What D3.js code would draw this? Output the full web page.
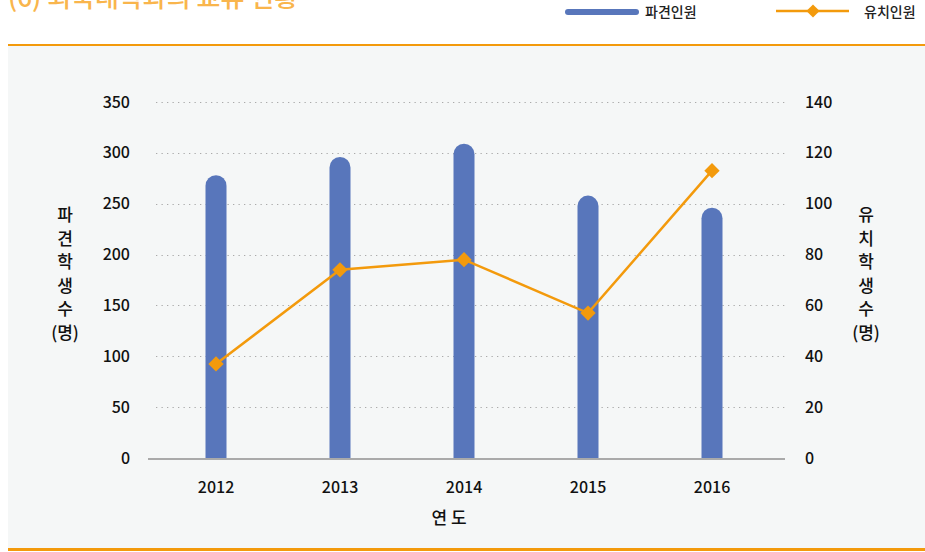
<!DOCTYPE html>
<html>
<head>
<meta charset="utf-8">
<script src="https://cdn.jsdelivr.net/npm/d3@7"></script>
<style>
  body { margin: 0; background: #fff; }
  svg text { font-family: "Noto Sans CJK KR", "Noto Sans", sans-serif; }
</style>
</head>
<body>
<div id="chartContainer"></div>
<script>
var years = ["2012", "2013", "2014", "2015", "2016"];
var sent = [278, 296, 309, 258, 246];      // 파견인원
var hosted = [37, 74, 78, 57, 113];        // 유치인원
var leftTicks = [0, 50, 100, 150, 200, 250, 300, 350];
var rightTicks = [0, 20, 40, 60, 80, 100, 120, 140];
var leftTitle = ["파", "견", "학", "생", "수", "(명)"];
var rightTitle = ["유", "치", "학", "생", "수", "(명)"];

var W = 925, H = 552;
var blue = "#5876bb", orange = "#f39a0c";

var svg = d3.select("#chartContainer").append("svg")
  .attr("width", W)
  .attr("height", H);

// panel background and orange rules
svg.append("rect").attr("x", 8).attr("y", 46).attr("width", W - 8).attr("height", 503).attr("fill", "#f5f7f7");
svg.append("rect").attr("x", 8).attr("y", 44).attr("width", W - 8).attr("height", 2).attr("fill", orange);
svg.append("rect").attr("x", 8).attr("y", 548).attr("width", W - 8).attr("height", 3).attr("fill", orange);

// title (cut off at top like the source)
svg.append("text")
  .attr("x", 8).attr("y", 7)
  .attr("font-size", 26).attr("font-weight", 500)
  .attr("fill", "#f9b54c")
  .text("(6) 외국대학과의 교류 현황");

// legend
svg.append("line").attr("x1", 568).attr("x2", 636).attr("y1", 12).attr("y2", 12)
  .attr("stroke", blue).attr("stroke-width", 6).attr("stroke-linecap", "round");
svg.append("text").attr("x", 645).attr("y", 17).attr("font-size", 14).attr("font-weight", 500).attr("fill", "#222").text("파견인원");
svg.append("line").attr("x1", 776).attr("x2", 849).attr("y1", 11).attr("y2", 11)
  .attr("stroke", orange).attr("stroke-width", 2.5);
svg.append("path").attr("d", d3.symbol(d3.symbolDiamond2, 110)()).attr("transform", "translate(813,11)").attr("fill", orange);
svg.append("text").attr("x", 864).attr("y", 17).attr("font-size", 14).attr("font-weight", 500).attr("fill", "#222").text("유치인원");

var x = d3.scaleBand().domain(years).range([154, 774]);
var yL = d3.scaleLinear().domain([0, 350]).range([458, 102]);
var yR = d3.scaleLinear().domain([0, 140]).range([458, 102]);

// dotted gridlines
svg.append("g").selectAll("line").data(leftTicks.slice(1)).join("line")
  .attr("x1", 156).attr("x2", 786)
  .attr("y1", function(d){ return Math.round(yL(d)) + 0.5; })
  .attr("y2", function(d){ return Math.round(yL(d)) + 0.5; })
  .attr("stroke", "#aaa").attr("stroke-width", 1.2).attr("stroke-dasharray", "1.3,4.2");

// left axis labels
var leftAxis = d3.axisLeft(yL).tickValues(leftTicks).tickSize(0).tickPadding(0);
var lg = svg.append("g").attr("transform", "translate(130,0)").call(leftAxis);
lg.select(".domain").remove();
lg.selectAll("text").attr("font-size", 16).attr("font-weight", 500).attr("fill", "#111")
  .attr("font-family", "\"Noto Sans CJK KR\", sans-serif");

// right axis labels
var rightAxis = d3.axisRight(yR).tickValues(rightTicks).tickSize(0).tickPadding(0);
var rg = svg.append("g").attr("transform", "translate(805,0)").call(rightAxis);
rg.select(".domain").remove();
rg.selectAll("text").attr("font-size", 16).attr("font-weight", 500).attr("fill", "#111")
  .attr("font-family", "\"Noto Sans CJK KR\", sans-serif");

// bars with rounded tops
var bw = 21;
svg.append("g").selectAll("path").data(sent).join("path")
  .attr("fill", blue)
  .attr("d", function(d, i){
    var cx = x(years[i]) + x.bandwidth() / 2, r = bw / 2;
    var top = yL(d), bot = yL(0);
    return "M" + (cx - r) + "," + bot + "L" + (cx - r) + "," + (top + r) +
      "A" + r + "," + r + " 0 0 1 " + (cx + r) + "," + (top + r) +
      "L" + (cx + r) + "," + bot + "Z";
  });

// x axis line
svg.append("line").attr("x1", 148).attr("x2", 785).attr("y1", 459).attr("y2", 459)
  .attr("stroke", "#aaa").attr("stroke-width", 2);

// x labels
var xAxis = d3.axisBottom(x).tickSize(0).tickPadding(0);
var xg = svg.append("g").attr("transform", "translate(0,482)").call(xAxis);
xg.select(".domain").remove();
xg.selectAll("text").attr("font-size", 16).attr("font-weight", 500).attr("fill", "#111")
  .attr("font-family", "\"Noto Sans CJK KR\", sans-serif");

svg.append("text").attr("x", 449).attr("y", 524).attr("text-anchor", "middle")
  .attr("font-size", 17).attr("font-weight", 500).attr("fill", "#111").text("연 도");

// line series
var line = d3.line()
  .x(function(d, i){ return x(years[i]) + x.bandwidth() / 2; })
  .y(function(d){ return yR(d); });
svg.append("path").datum(hosted).attr("d", line)
  .attr("fill", "none").attr("stroke", orange).attr("stroke-width", 2.5);
svg.append("g").selectAll("path").data(hosted).join("path")
  .attr("d", d3.symbol(d3.symbolDiamond2, 150)())
  .attr("transform", function(d, i){ return "translate(" + (x(years[i]) + x.bandwidth() / 2) + "," + yR(d) + ")"; })
  .attr("fill", orange);

// vertical axis titles
function vtitle(chars, cx) {
  svg.append("g").selectAll("text").data(chars).join("text")
    .attr("x", cx).attr("y", function(d, i){ return 221 + i * 23.5; })
    .attr("text-anchor", "middle").attr("font-size", 17).attr("font-weight", 500).attr("fill", "#111")
    .text(function(d){ return d; });
}
vtitle(leftTitle, 65);
vtitle(rightTitle, 866);
</script>
</body>
</html>
